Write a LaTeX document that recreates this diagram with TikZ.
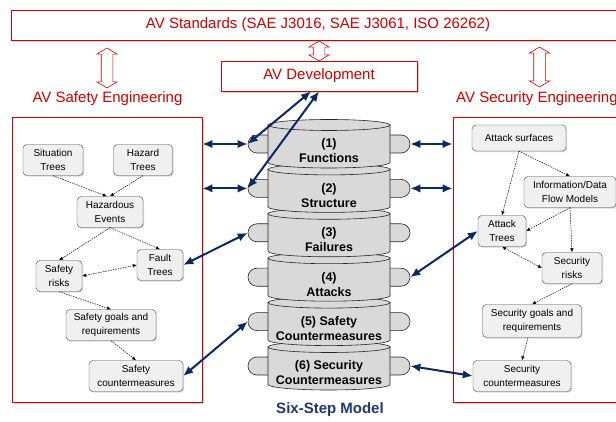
\documentclass[tikz,border=0pt]{standalone}
\usepackage{fontspec}
\setmainfont{Liberation Sans}
\usepackage{xcolor}
\usepackage{tikz}
\usetikzlibrary{arrows.meta,shapes.arrows,shadows}
\definecolor{avred}{RGB}{204,0,0}
\definecolor{navy}{RGB}{12,40,100}
\definecolor{stepblue}{RGB}{31,56,110}
\definecolor{cylfill}{RGB}{217,217,217}
\definecolor{itemfill}{RGB}{240,240,240}
\tikzset{
  redbox/.style   ={draw=avred,fill=white,line width=0.8pt,text=avred,
                    font=\fontsize{15}{18}\selectfont,inner sep=0pt,
                    drop shadow={shadow xshift=2pt,shadow yshift=-2pt,fill=black!35}},
  redlbl/.style   ={text=avred,font=\fontsize{15}{18}\selectfont,inner sep=0pt},
  holarr/.style   ={double arrow,draw=avred,fill=white,line width=0.6pt,rotate=90,
                    inner sep=5.5pt,double arrow head extend=4.5pt,
                    double arrow tip angle=118},
  item/.style     ={draw=black!70,fill=itemfill,rounded corners=4pt,align=center,
                    font=\fontsize{10}{14}\selectfont,inner sep=2pt,minimum height=31pt,
                    drop shadow={shadow xshift=1.2pt,shadow yshift=-1.2pt,fill=black!30}},
  tabbox/.style   ={draw=black!85,fill=cylfill,rounded corners=9pt,line width=0.6pt,
                    minimum width=40pt,minimum height=18pt,inner sep=0pt},
  cylbody/.style  ={draw=black!85,fill=cylfill,line width=0.6pt},
  steplbl/.style  ={align=center,font=\fontsize{12.5}{15}\selectfont\bfseries,inner sep=0pt},
  dep/.style      ={-{Latex[length=4pt,width=3.5pt]},dash pattern=on 1.5pt off 1pt,
                    line width=0.5pt},
  bidep/.style    ={dep,{Latex[length=4pt,width=3.5pt]}-{Latex[length=4pt,width=3.5pt]}},
  link/.style     ={{Latex[length=10pt,width=8.5pt]}-{Latex[length=10pt,width=8.5pt]},
                    draw=navy,line width=2pt},
}

\begin{document}
\begin{tikzpicture}[x=1pt,y=-1pt]
\useasboundingbox (0,0) rectangle (616,422);

% --- standards / development ------------------------------------------------
\node[redbox,minimum width=614pt,minimum height=30pt] (std) at (318,25)
  {AV Standards (SAE J3016, SAE J3061, ISO 26262)};
\node[redbox,minimum width=196pt,minimum height=30pt] (dev) at (319,76)
  {AV Development};
\node[holarr,minimum height=40pt] (a1) at (107,68) {};
\node[holarr,minimum height=20pt] (a2) at (319,51) {};
\node[holarr,minimum height=40pt] (a3) at (539.5,67) {};

\node[redlbl] (safelbl) at (107.5,99) {AV Safety Engineering};
\node[redlbl,anchor=west] (seclbl) at (456,99) {AV Security Engineering};

% --- engineering frames -----------------------------------------------------
\node[redbox,minimum width=190pt,minimum height=285pt] (safe) at (107,259.5) {};
\node[redbox,minimum width=177pt,minimum height=285pt] (sec) at (541.5,259.5) {};

% --- safety side ------------------------------------------------------------
\node[item,minimum width=60pt] (sit) at (53,160) {Situation\\Trees};
\node[item,minimum width=59pt] (hzt) at (143,160) {Hazard\\Trees};
\node[item,minimum width=66pt] (hev) at (110,212) {Hazardous\\Events};
\node[item,minimum width=46pt] (flt) at (160,265) {Fault\\Trees};
\node[item,minimum width=46pt] (srk) at (59,276) {Safety\\risks};
\node[item,minimum width=90pt] (sgl) at (111,325) {Safety goals and\\requirements};
\node[item,minimum width=94pt] (scm) at (136,376) {Safety\\countermeasures};

\draw[dep] (sit.south) -- ([xshift=-3pt]hev.north);
\draw[dep] (hzt.south) -- (hev.north);
\draw[dep] (hev.south) -- (srk.north);
\draw[dep] (hev.south) -- (flt.north);
\draw[bidep] (srk.east) -- (flt.west);
\draw[dep] (srk.south) -- (sgl.north);
\draw[dep] (sgl.south) -- (scm.north);

% --- security side ----------------------------------------------------------
\node[item,minimum width=94pt,minimum height=26pt] (asf) at (519,138) {Attack surfaces};
\node[item,minimum width=92pt] (ifm) at (570,192) {Information/Data\\Flow Models};
\node[item,minimum width=48pt] (atr) at (502,231) {Attack\\Trees};
\node[item,minimum width=60pt] (xrk) at (572,268) {Security\\risks};
\node[item,minimum width=99pt,minimum height=33pt] (xgl) at (532,321) {Security goals and\\requirements};
\node[item,minimum width=98pt] (xcm) at (522,376) {Security\\countermeasures};

\draw[dep] (asf.south) -- (ifm.north);
\draw[dep] (asf.south) -- (atr.north);
\draw[dep] (ifm.south) -- (atr.east);
\draw[dep] (ifm.south) -- (xrk.north);
\draw[bidep] (atr.south) -- (xrk.west);
\draw[dep] (xrk.south) -- (xgl.north);
\draw[dep] ([xshift=-4pt]xgl.south) -- (xcm.north);

% --- six-step stack ---------------------------------------------------------
\foreach \i/\lbl in {6/{(6) Security\\Countermeasures},5/{(5) Safety\\Countermeasures},
                     4/{(4)\\Attacks},3/{(3)\\Failures},2/{(2)\\Structure},1/{(1)\\Functions}} {
  \pgfmathsetmacro\yt{125+44.4*(\i-1)}
  \pgfmathsetmacro\yb{\yt+37.5}
  \node[tabbox] (l\i) at (268,\yt+19) {};
  \node[tabbox] (r\i) at (390,\yt+19) {};
  \filldraw[cylbody] (268,\yt) -- (268,\yb)
    arc[start angle=180,end angle=360,x radius=61pt,y radius=5.5pt] -- (390,\yt) -- cycle;
  \filldraw[cylbody] (329,\yt) ellipse[x radius=61pt,y radius=5.5pt];
  \node[steplbl] (s\i) at (329,\yt+26) {\lbl};
}
\node[font=\fontsize{15}{18}\selectfont\bfseries,text=stepblue] (model) at (330,410)
  {Six-Step Model};

% --- links ------------------------------------------------------------------
\draw[link] ([xshift=-8pt]dev.south) -- (l1.west);
\draw[link] (dev.south) -- (l2.west);
\draw[link] (safe.east|-l1.west) -- (l1.west);
\draw[link] (safe.east|-l2.west) -- (l2.west);
\draw[link] (flt.east) -- (l3.west);
\draw[link] (scm.east) -- (l5.west);
\draw[link] (r1.east) -- (sec.west|-r1.east);
\draw[link] (r2.east) -- (sec.west|-r2.east);
\draw[link] (r4.east) -- (atr.west);
\draw[link] (r6.east) -- (xcm.west);

\end{tikzpicture}
\end{document}
